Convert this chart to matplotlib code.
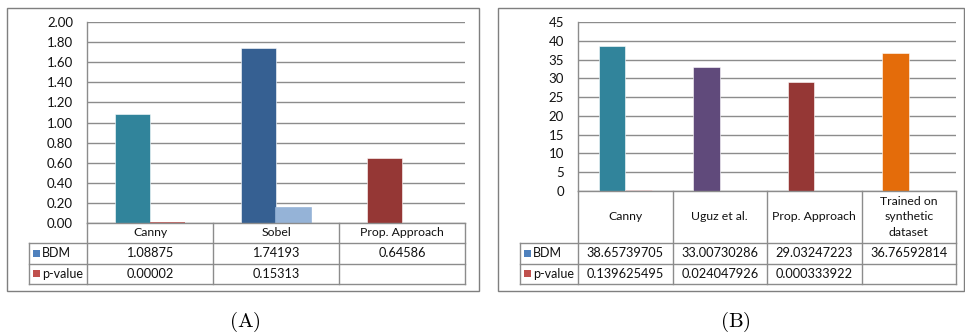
import numpy as np
import matplotlib.pyplot as plt
from matplotlib.patches import Rectangle

# panel (A)
cats_a = ["Canny", "Sobel", "Prop. Approach"]
bdm_a = [1.08875, 1.74193, 0.64586]
pval_a = [0.00002, 0.15313, None]
bdm_txt_a = ["1.08875", "1.74193", "0.64586"]
pval_txt_a = ["0.00002", "0.15313", ""]
bdm_colors_a = ["#31849B", "#366092", "#953735"]
pval_colors_a = ["#C0504D", "#95B3D7", "#C0504D"]
yticks_a = [0.0, 0.2, 0.4, 0.6, 0.8, 1.0, 1.2, 1.4, 1.6, 1.8, 2.0]

# panel (B)
cats_b = ["Canny", "Uguz et al.", "Prop. Approach", "Trained on\nsynthetic\ndataset"]
bdm_b = [38.65739705, 33.00730286, 29.03247223, 36.76592814]
pval_b = [0.139625495, 0.024047926, 0.000333922, None]
bdm_txt_b = ["38.65739705", "33.00730286", "29.03247223", "36.76592814"]
pval_txt_b = ["0.139625495", "0.024047926", "0.000333922", ""]
bdm_colors_b = ["#31849B", "#604A7B", "#953735", "#E46C0A"]
pval_colors_b = ["#C0504D", "#C0504D", "#C0504D", "#C0504D"]
yticks_b = [0, 5, 10, 15, 20, 25, 30, 35, 40, 45]

series = ["BDM", "p-value"]
legend_colors = ["#4F81BD", "#C0504D"]

W, H = 965, 336
FONT = "Lato"
GRID = "#8C8C8C"
TEXT = "#111111"

fig = plt.figure(figsize=(W / 100, H / 100), dpi=100)
over = fig.add_axes([0, 0, 1, 1], zorder=5)
over.set_xlim(0, W)
over.set_ylim(H, 0)
over.axis("off")


def draw_panel(frame, plot_box, head_h, cats, bdm, pval, bdm_txt, pval_txt,
               bdm_cols, pval_cols, pval_edge, yticks, fmt, caption, cap_x):
    fx0, fy0, fx1, fy1 = frame
    px0, py0, px1, py1 = plot_box  # pixel coords, y from top
    lab_x0 = px0 - 58
    row_h = 20.5

    # outer frame
    over.add_patch(Rectangle((fx0, fy0), fx1 - fx0, fy1 - fy0, fill=False,
                             ec="#7F7F7F", lw=1.0))

    ax = fig.add_axes([px0 / W, 1 - py1 / H, (px1 - px0) / W, (py1 - py0) / H])
    n = len(cats)
    x = np.arange(n)
    bw = 0.28
    for i in range(n):
        ax.bar(x[i] - bw / 2, bdm[i], bw, color=bdm_cols[i],
               edgecolor="#FFFFFF", linewidth=0.4, zorder=3)
        if pval[i] is not None:
            ec = pval_cols[i] if pval_edge else "#FFFFFF"
            ax.bar(x[i] + bw / 2, pval[i], bw, color=pval_cols[i],
                   edgecolor=ec, linewidth=1.2 if pval_edge else 0.4,
                   zorder=3, clip_on=not pval_edge)
    ax.set_xlim(-0.5, n - 0.5)
    ax.set_ylim(yticks[0], yticks[-1])
    ax.set_yticks(yticks)
    ax.set_yticklabels([fmt(t) for t in yticks], fontsize=9.5,
                       family=FONT, color=TEXT)
    ax.tick_params(axis="y", length=0, pad=10)
    ax.set_xticks([])
    ax.grid(axis="y", color=GRID, lw=1.0, zorder=0)
    for s in ["top", "right", "bottom"]:
        ax.spines[s].set_visible(False)
    ax.spines["left"].set_color(GRID)
    ax.spines["left"].set_linewidth(1.0)
    ax.patch.set_alpha(0)

    # data table below the plot
    colw = (px1 - px0) / n
    t0 = py1
    t1 = t0 + head_h
    t2 = t1 + row_h
    t3 = t2 + row_h
    lc = "#8C8C8C"
    over.plot([px0, px1], [t0, t0], color=lc, lw=1.0)
    over.plot([lab_x0, px1], [t1, t1], color=lc, lw=1.0)
    over.plot([lab_x0, px1], [t2, t2], color=lc, lw=1.0)
    over.plot([lab_x0, px1], [t3, t3], color=lc, lw=1.0)
    over.plot([lab_x0, lab_x0], [t1, t3], color=lc, lw=1.0)
    for i in range(n + 1):
        xx = px0 + i * colw
        over.plot([xx, xx], [t0, t3], color=lc, lw=1.0)
    for i in range(n):
        cx = px0 + (i + 0.5) * colw
        over.text(cx, (t0 + t1) / 2, cats[i], ha="center", va="center",
                  fontsize=8.8, family=FONT, color=TEXT, linespacing=1.45)
        over.text(cx, (t1 + t2) / 2, bdm_txt[i], ha="center", va="center",
                  fontsize=9.2, family=FONT, color=TEXT)
        over.text(cx, (t2 + t3) / 2, pval_txt[i], ha="center", va="center",
                  fontsize=9.2, family=FONT, color=TEXT)
    for k, (name, col) in enumerate(zip(series, legend_colors)):
        yc = (t1 + t2) / 2 + k * row_h
        over.add_patch(Rectangle((lab_x0 + 4, yc - 3.5), 7, 7, color=col, lw=0))
        over.text(lab_x0 + 13, yc, name, ha="left", va="center",
                  fontsize=9, family=FONT, color=TEXT)

    over.text(cap_x, 322, caption, ha="center", va="center", fontsize=15)


plt.rcParams["mathtext.fontset"] = "cm"

draw_panel((7, 8, 479, 291), (87, 22, 465, 223), 20, cats_a, bdm_a, pval_a,
           bdm_txt_a, pval_txt_a, bdm_colors_a, pval_colors_a, True, yticks_a,
           lambda v: f"{v:.2f}", r"$\mathrm{(A)}$", 245)
draw_panel((498, 8, 964, 291), (578, 22, 956, 191), 52, cats_b, bdm_b, pval_b,
           bdm_txt_b, pval_txt_b, bdm_colors_b, pval_colors_b, False, yticks_b,
           lambda v: f"{v:d}", r"$\mathrm{(B)}$", 735)

fig.savefig("out.png", dpi=100)
